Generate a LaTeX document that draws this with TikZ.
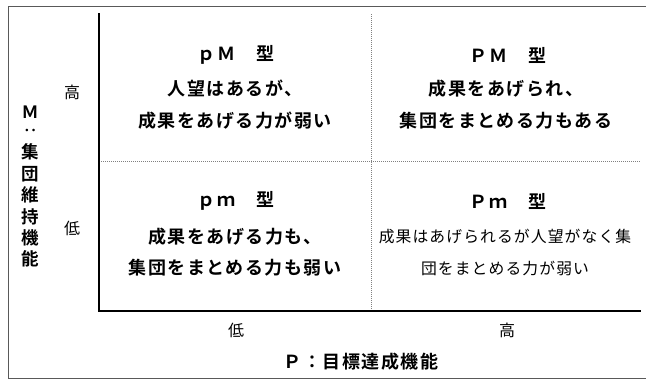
\documentclass[tikz,border=0pt]{standalone}
\usepackage{fontspec}
\setmainfont{Noto Sans CJK JP}
\newfontfamily\jpb{Noto Sans CJK JP Bold}[LetterSpace=8]
\newfontfamily\jpr{Noto Sans CJK JP}[LetterSpace=7]
\newfontfamily\jpplain{Noto Sans CJK JP}
\newfontfamily\jpbplain{Noto Sans CJK JP Bold}
\begin{document}
\begin{tikzpicture}[x=1pt,y=-1pt,
  quadtitle/.style={font=\jpb\fontsize{18}{20}\selectfont},
  quadbody/.style={font=\jpb\fontsize{18}{31.5}\selectfont,align=center},
  quadsmall/.style={font=\jpr\fontsize{15.8}{31.5}\selectfont,align=center},
  ticklab/.style={font=\jpplain\fontsize{16}{18}\selectfont},
  axislab/.style={font=\jpb\fontsize{18}{20}\selectfont},
  axisline/.style={line width=1.6pt,black},
  divider/.style={line width=0.6pt,gray,dash pattern=on 1pt off 1pt},
  framebox/.style={line width=0.9pt,black!65}]
\useasboundingbox (0,0) rectangle (646,381);
\begin{scope}
\clip (0,0) rectangle (646,381);
\draw[framebox] (8,6) rectangle (660,378);
\end{scope}
% axes
\coordinate (o) at (99,311);
\coordinate (ytop) at (99,13);
\coordinate (xend) at (641,311);
\coordinate (vtop) at (371,14);
\coordinate (vbot) at (371,311);
\coordinate (hl) at (99,161);
\coordinate (hr) at (641,161);
\draw[divider] (vtop) -- (vbot);
\draw[divider] (hl) -- (hr);
\draw[axisline] (ytop) -- (o) -- (xend);
% quadrants
\node[quadtitle] (tpM) at (236,55) {ｐＭ　型};
\node[quadbody] (bpM) at (235,104.5) {人望はあるが、\\成果をあげる力が弱い};
\node[quadtitle] (tPM) at (508,55) {ＰＭ　型};
\node[quadbody] (bPM) at (506,104.5) {成果をあげられ、\\集団をまとめる力もある};
\node[quadtitle] (tpm) at (236,201) {ｐｍ　型};
\node[quadbody] (bpm) at (235,252) {成果をあげる力も、\\集団をまとめる力も弱い};
\node[quadtitle] (tPm) at (508,201) {Ｐｍ　型};
\node[quadsmall] (bPm) at (505,252.5) {成果はあげられるが人望がなく集\\団をまとめる力が弱い};
% tick labels
\node[ticklab] (yhi) at (72,92) {高};
\node[ticklab] (ylo) at (72,228) {低};
\node[ticklab] (xlo) at (236,330) {低};
\node[ticklab] (xhi) at (507,330) {高};
% axis titles
\node[axislab] (xt) at (361,362) {Ｐ：目標達成機能};
\node[font=\jpbplain\fontsize{17}{18}\selectfont] (ym) at (30,112) {Ｍ};
\node[font=\jpbplain\fontsize{14}{16}\selectfont,rotate=-90] (yc) at (30,130) {：};
\node[font=\jpbplain\fontsize{17.5}{21.4}\selectfont,align=center,anchor=north] (yt) at (30,140.5) {集\\団\\維\\持\\機\\能};
\end{tikzpicture}
\end{document}
